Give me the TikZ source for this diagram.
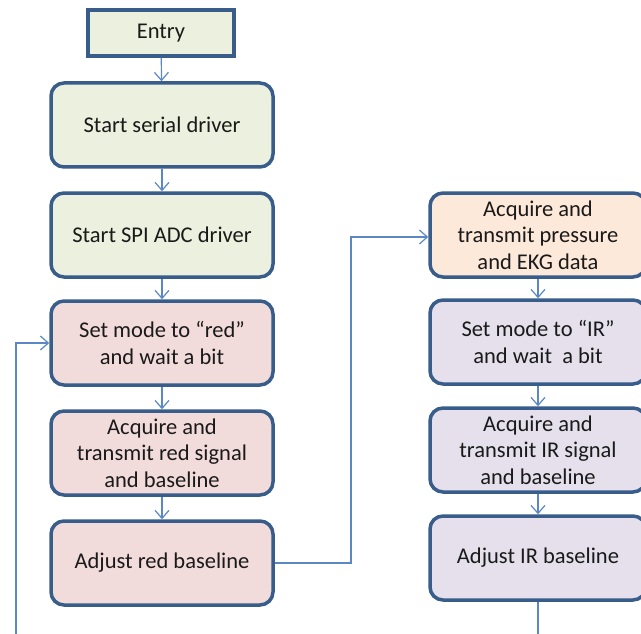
\documentclass[tikz,border=0pt]{standalone}
\usepackage{fontspec}
\setmainfont{Carlito}
\usetikzlibrary{arrows.meta}
\definecolor{bord}{HTML}{385D8A}
\definecolor{conn}{HTML}{5B87C5}
\definecolor{fgreen}{HTML}{EBF1DE}
\definecolor{fred}{HTML}{F2DCDB}
\definecolor{forange}{HTML}{FDE9D9}
\definecolor{fpurple}{HTML}{E5E0EC}
\definecolor{txt}{HTML}{1A1A1A}
\tikzset{
  box/.style={draw=bord, line width=3.5pt, rounded corners=13pt, align=center,
    text=txt, font=\fontsize{22.5}{26.5}\selectfont, inner sep=0pt},
  lbox/.style={box, minimum width=222, minimum height=84},
  rbox/.style={box, minimum width=216, minimum height=84},
  entrybox/.style={box, rounded corners=0pt, minimum width=146, minimum height=46},
  flow/.style={draw=conn, line width=1.2pt, -{Straight Barb[length=8pt,width=14pt]}},
  plainflow/.style={draw=conn, line width=1.2pt}
}
\begin{document}
\begin{tikzpicture}[x=1pt,y=-1pt]
\useasboundingbox (0,0) rectangle (641,634);
\clip (0,0) rectangle (641,634);
\fill[white] (0,0) rectangle (641,634);
% left column
\node[entrybox, fill=fgreen] (entry) at (161,33) {Entry};
\node[lbox, fill=fgreen] (serial) at (162,125) {Start serial driver};
\node[lbox, fill=fgreen] (spi) at (162,235) {Start SPI ADC driver};
\node[lbox, fill=fred] (setred) at (162,343) {Set mode to “red”\\and wait a bit};
\node[lbox, fill=fred] (acqred) at (162,453) {Acquire and\\transmit red signal\\and baseline};
\node[lbox, fill=fred] (adjred) at (162,563) {Adjust red baseline};
% right column
\node[rbox, fill=forange] (press) at (538,235) {Acquire and\\transmit pressure\\and EKG data};
\node[rbox, fill=fpurple] (setir) at (538,342) {Set mode to “IR”\\and wait\ \ a bit};
\node[rbox, fill=fpurple] (acqir) at (538,450) {Acquire and\\transmit IR signal\\and baseline};
\node[rbox, fill=fpurple] (adjir) at (538,558) {Adjust IR baseline};
% coordinates
\coordinate (loopbot) at (16,640);
\coordinate (irbot) at (538,640);
% connectors
\draw[flow] (entry) -- (serial);
\draw[flow] (serial) -- (spi);
\draw[flow] (spi) -- (setred);
\draw[flow] (setred) -- (acqred);
\draw[flow] (acqred) -- (adjred);
\draw[flow] (adjred.east) -| (351,237) -- (press.west |- 0,237);
\draw[flow] (press) -- (setir);
\draw[flow] (setir) -- (acqir);
\draw[flow] (acqir) -- (adjir);
\draw[flow] (loopbot) |- (setred.west);
\draw[plainflow] (adjir) -- (irbot);
\end{tikzpicture}
\end{document}
